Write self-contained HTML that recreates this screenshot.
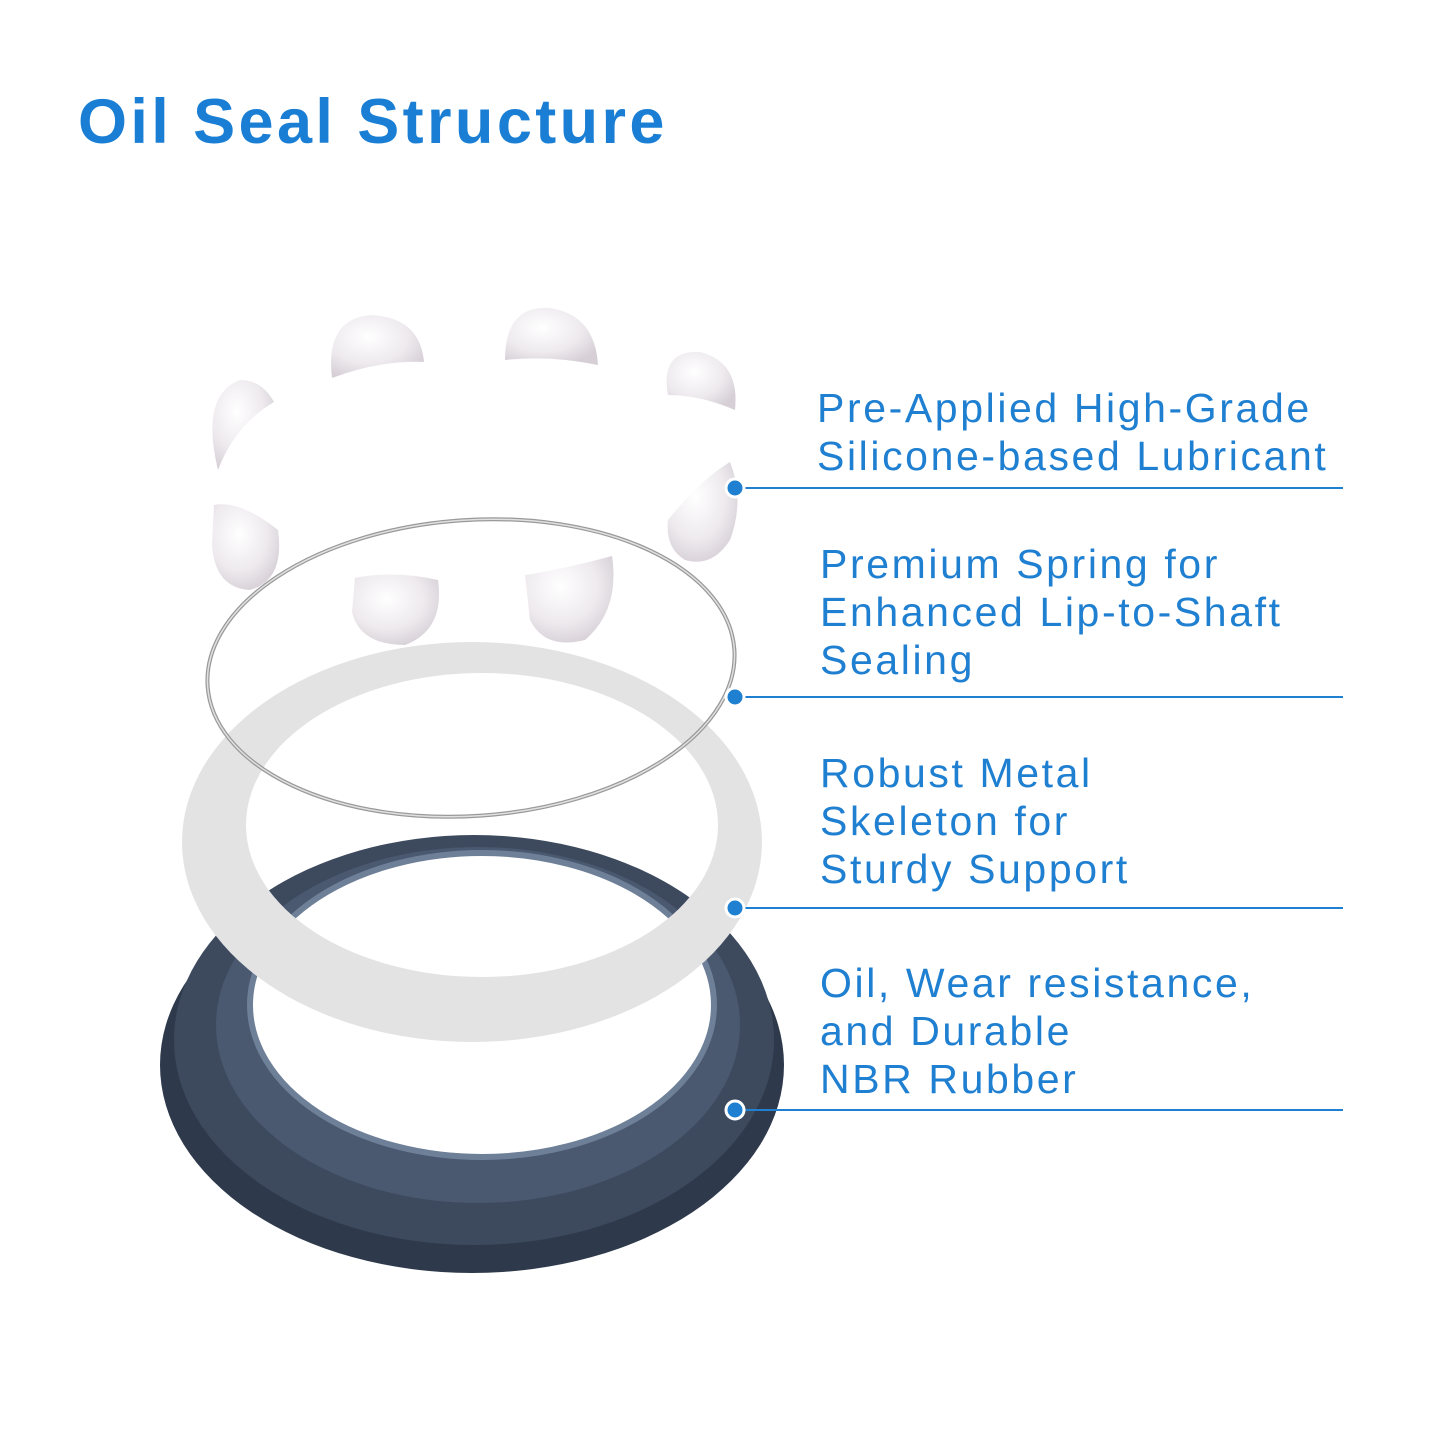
<!DOCTYPE html>
<html><head><meta charset="utf-8"><style>
body{margin:0;background:#fff;}
.wrap{position:relative;width:1445px;height:1445px;overflow:hidden;font-family:"Liberation Sans",sans-serif;}
h1{position:absolute;left:78px;top:86px;margin:0;font-size:63px;font-weight:bold;color:#1a7fd4;letter-spacing:3.4px;}
.lbl{position:absolute;left:820px;color:#1f7fd0;font-size:41px;line-height:48px;letter-spacing:2.6px;}
</style></head><body><div class="wrap">
<h1>Oil Seal Structure</h1>
<svg width="1445" height="1445" style="position:absolute;left:0;top:0">
<defs>
<radialGradient id="blob" cx="40%" cy="35%" r="70%"><stop offset="0" stop-color="#fff"/><stop offset="0.6" stop-color="#eeeaee"/><stop offset="1" stop-color="#d6d0d6"/></radialGradient>
<mask id="holeR"><rect width="1445" height="1445" fill="#fff"/><ellipse cx="482" cy="1005" rx="232" ry="152" fill="#000"/></mask>
<mask id="holeM"><rect width="1445" height="1445" fill="#fff"/><ellipse cx="482" cy="825" rx="236" ry="152" fill="#000"/></mask>
</defs>
<g mask="url(#holeR)">
<ellipse cx="472" cy="1065" rx="312" ry="208" fill="#2e3a4c"/>
<ellipse cx="474" cy="1040" rx="300" ry="205" fill="#3d4a5e"/>
<ellipse cx="478" cy="1025" rx="262" ry="178" fill="#4a5870"/>
</g>
<ellipse cx="482" cy="1005" rx="232" ry="152" fill="none" stroke="#6e7f98" stroke-width="6"/>
<g mask="url(#holeM)">
<ellipse cx="472" cy="842" rx="290" ry="200" fill="#e3e3e3"/>
</g>
<ellipse cx="471" cy="668" rx="264" ry="148" transform="rotate(-4 471 668)" fill="none" stroke="#999" stroke-width="4"/>
<ellipse cx="471" cy="668" rx="264" ry="148" transform="rotate(-4 471 668)" fill="none" stroke="#e0e0e0" stroke-width="1.5"/>
<g fill="url(#blob)">
<path d="M332 378 Q325 318 372 315 Q420 318 424 362 Q380 360 332 378Z"/>
<path d="M505 360 Q505 305 550 308 Q595 315 598 365 Q550 355 505 360Z"/>
<path d="M668 395 Q660 350 700 352 Q740 362 735 410 Q700 395 668 395Z"/>
<path d="M218 470 Q200 395 240 380 Q262 380 274 402 Q235 425 218 470Z"/>
<path d="M668 520 Q700 480 730 462 Q745 500 730 540 Q712 568 685 560 Q665 548 668 520Z"/>
<path d="M214 505 Q240 500 278 530 Q285 580 250 590 Q215 588 212 545Z"/>
<path d="M355 578 Q395 570 438 580 Q445 630 405 645 Q360 645 352 612Z"/>
<path d="M525 575 Q560 570 612 556 Q620 610 585 640 Q545 650 530 620Z"/>
</g>
<g stroke="#1f7fd0" stroke-width="2">
<line x1="735" y1="488" x2="1343" y2="488"/>
<line x1="735" y1="697" x2="1343" y2="697"/>
<line x1="735" y1="908" x2="1343" y2="908"/>
<line x1="735" y1="1110" x2="1343" y2="1110"/>
</g>
<g fill="#1f7fd0" stroke="#fff" stroke-width="3">
<circle cx="735" cy="488" r="9"/><circle cx="735" cy="697" r="9"/>
<circle cx="735" cy="908" r="9"/><circle cx="735" cy="1110" r="9"/>
</g>
</svg>
<div class="lbl" style="top:384px;left:817px">Pre-Applied High-Grade<br>Silicone-based Lubricant</div>
<div class="lbl" style="top:540px">Premium Spring for<br>Enhanced Lip-to-Shaft<br>Sealing</div>
<div class="lbl" style="top:749px">Robust Metal<br>Skeleton for<br>Sturdy Support</div>
<div class="lbl" style="top:959px">Oil, Wear resistance,<br>and Durable<br>NBR Rubber</div>
</div></body></html>
